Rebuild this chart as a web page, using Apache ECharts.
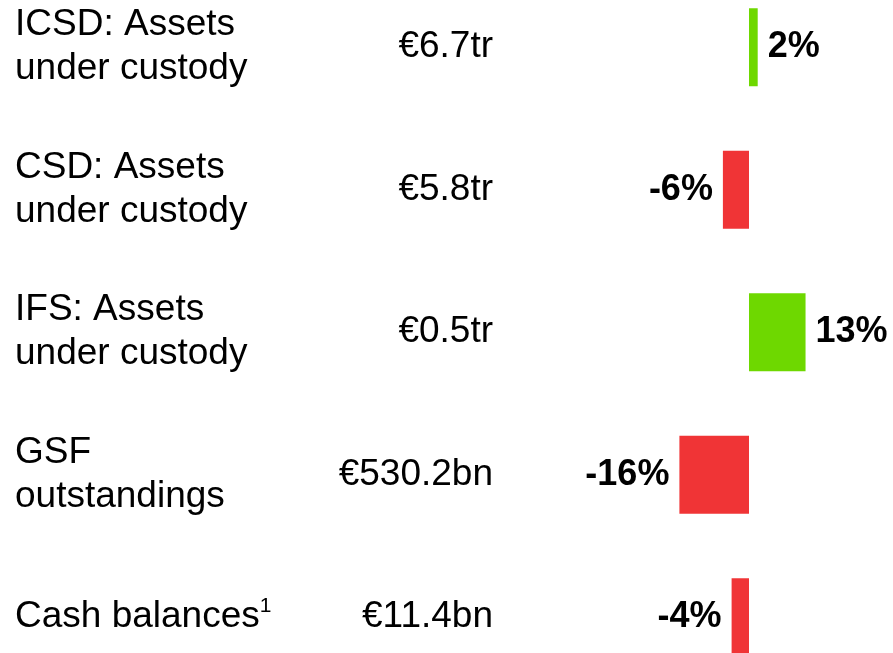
<!DOCTYPE html>
<html>
<head>
<meta charset="utf-8">
<script src="https://cdn.jsdelivr.net/npm/echarts@6/dist/echarts.min.js"></script>
<style>
  html, body { margin: 0; padding: 0; background: #fff; }
  #main { width: 893px; height: 653px; }
</style>
</head>
<body>
<div id="main"></div>
<script>
// 指标名称
const categories = [
  'ICSD: Assets\nunder custody',
  'CSD: Assets\nunder custody',
  'IFS: Assets\nunder custody',
  'GSF\noutstandings',
  'Cash balances{sup|1}'
];
// 数值
const amounts = ['€6.7tr', '€5.8tr', '€0.5tr', '€530.2bn', '€11.4bn'];
// 同比变化（%）
const changes = [2, -6, 13, -16, -4];

const FONT = '"Liberation Sans", Arial, sans-serif';
const GREEN = '#6ed800';
const RED = '#f03436';

const chart = echarts.init(document.getElementById('main'));

const option = {
  backgroundColor: '#fff',
  animation: false,
  grid: {
    left: 662,
    width: 174,
    top: -24,
    height: 712.5,
    containLabel: false,
    outerBoundsMode: 'none' // v6 默认会把grid限制在容器内
  },
  xAxis: {
    type: 'value',
    min: -20,
    max: 20,
    show: false,
    splitLine: { show: false }
  },
  yAxis: [
    {
      type: 'category',
      inverse: true,
      data: categories,
      axisLine: { show: false },
      axisTick: { show: false },
      splitLine: { show: false },
      axisLabel: {
        align: 'left',
        margin: 647,
        color: '#000',
        fontFamily: FONT,
        fontSize: 37,
        lineHeight: 44,
        rich: {
          sup: { fontSize: 21, fontFamily: FONT, color: '#000', verticalAlign: 'top', lineHeight: 40 }
        }
      }
    },
    {
      // 数值列
      type: 'category',
      inverse: true,
      position: 'left',
      data: amounts,
      axisLine: { show: false },
      axisTick: { show: false },
      splitLine: { show: false },
      axisLabel: {
        align: 'right',
        margin: 169,
        color: '#000',
        fontFamily: FONT,
        fontSize: 37,
        padding: [3, 0, 0, 0]
      }
    }
  ],
  series: [
    {
      type: 'bar',
      yAxisIndex: 0,
      barWidth: 78,
      data: changes.map((v) => ({
        value: v,
        itemStyle: { color: v >= 0 ? GREEN : RED },
        label: { position: v >= 0 ? 'right' : 'left' }
      })),
      label: {
        show: true,
        distance: 10,
        formatter: '{c}%',
        color: '#000',
        fontFamily: FONT,
        fontSize: 36,
        fontWeight: 'bold'
      }
    }
  ]
};

chart.setOption(option);
</script>
</body>
</html>
